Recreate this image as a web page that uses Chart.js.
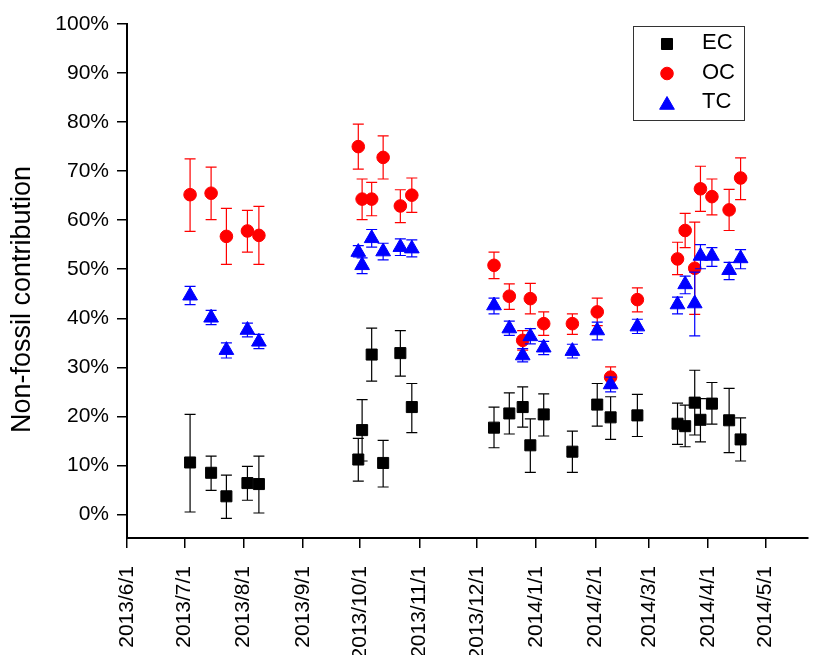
<!DOCTYPE html>
<html lang="en">
<head>
<meta charset="utf-8">
<title>Non-fossil contribution</title>
<script src="https://cdn.jsdelivr.net/npm/chart.js"></script>
<style>
  html, body { margin: 0; padding: 0; background: #fff; }
  #chart { display: block; }
</style>
</head>
<body>
<canvas id="chart" width="817" height="655"></canvas>
<script>
// sample dates shared by the three series
const sampleDates = [
  '2013/7/4', '2013/7/15', '2013/7/23', '2013/8/3', '2013/8/9',
  '2013/9/30', '2013/10/2', '2013/10/7', '2013/10/13', '2013/10/22', '2013/10/28',
  '2013/12/10', '2013/12/18', '2013/12/25', '2013/12/29', '2014/1/5', '2014/1/20', '2014/2/2', '2014/2/9', '2014/2/23',
  '2014/3/16', '2014/3/20', '2014/3/25', '2014/3/28', '2014/4/3', '2014/4/12', '2014/4/18'
];

// values in %, with lower / upper end of each error bar
const ecValues = [10.6, 8.5, 3.7, 6.4, 6.2, 11.2, 17.2, 32.6, 10.5, 32.9, 21.9,
  17.7, 20.6, 21.9, 14.1, 20.4, 12.8, 22.4, 19.8, 20.2, 18.5, 18.0, 22.8, 19.3, 22.6, 19.2, 15.3];
const ecLow = [0.5, 4.9, -0.8, 2.9, 0.3, 6.8, 10.9, 27.2, 5.6, 28.2, 16.7,
  13.6, 16.4, 17.8, 8.6, 16.0, 8.6, 18.0, 15.3, 15.9, 14.3, 13.8, 16.2, 14.8, 18.4, 12.6, 10.9];
const ecHigh = [20.4, 11.9, 8.0, 9.8, 11.9, 15.5, 23.4, 38.0, 15.1, 37.5, 26.7,
  21.9, 24.8, 26.0, 19.5, 24.6, 17.0, 26.7, 24.0, 24.5, 22.7, 22.3, 29.4, 23.6, 26.9, 25.7, 19.7];

const ocValues = [65.2, 65.5, 56.7, 57.8, 56.9, 75.0, 64.3, 64.3, 72.8, 62.9, 65.1,
  50.8, 44.5, 35.5, 44.0, 38.9, 38.9, 41.3, 28.0, 43.8, 52.1, 57.9, 50.2, 66.4, 64.8, 62.1, 68.6];
const ocLow = [57.7, 60.1, 51.0, 53.5, 51.0, 70.4, 60.1, 60.9, 68.4, 59.5, 61.6,
  48.1, 41.8, 33.5, 40.9, 36.5, 36.7, 38.5, 25.7, 41.3, 48.9, 54.4, 40.8, 61.8, 61.1, 57.9, 64.2];
const ocHigh = [72.5, 70.8, 62.4, 62.0, 62.8, 79.6, 68.4, 67.7, 77.2, 66.2, 68.6,
  53.5, 47.0, 37.5, 47.1, 41.3, 40.9, 44.1, 30.1, 46.2, 55.5, 61.4, 59.6, 71.0, 68.4, 66.3, 72.7];

const tcValues = [44.6, 40.1, 33.5, 37.6, 35.2, 53.5, 50.8, 56.3, 53.6, 54.5, 54.2,
  42.6, 37.9, 32.4, 36.3, 34.0, 33.3, 37.5, 26.5, 38.3, 42.8, 46.9, 43.0, 52.7, 52.7, 49.8, 52.2];
const tcLow = [42.8, 38.7, 31.9, 36.2, 33.8, 52.5, 49.1, 54.5, 51.9, 52.8, 52.5,
  40.9, 36.5, 31.1, 34.8, 32.6, 31.9, 35.6, 25.0, 36.9, 40.9, 45.0, 36.4, 50.1, 50.6, 47.9, 50.1];
const tcHigh = [46.5, 41.6, 35.0, 39.0, 36.7, 54.8, 52.3, 58.1, 55.3, 56.2, 56.0,
  44.1, 39.4, 33.8, 37.9, 35.3, 34.7, 39.2, 28.0, 39.8, 44.3, 48.6, 49.4, 55.0, 54.4, 51.4, 54.0];

const tickLabels = ['2013/6/1', '2013/7/1', '2013/8/1', '2013/9/1', '2013/10/1', '2013/11/1',
  '2013/12/1', '2014/1/1', '2014/2/1', '2014/3/1', '2014/4/1', '2014/5/1'];
const yTicks = [0, 10, 20, 30, 40, 50, 60, 70, 80, 90, 100];

const FONT = '"Liberation Sans", Arial, Helvetica, sans-serif';

// days since 2013/6/1
const origin = Date.UTC(2013, 5, 1);
function dayOf(s) {
  const [y, m, d] = s.split('/').map(Number);
  return (Date.UTC(y, m - 1, d) - origin) / 86400000;
}
function points(values) {
  return values.map((v, i) => ({ x: dayOf(sampleDates[i]), y: v }));
}

// error bars, drawn just before each dataset's markers
const errorBars = {
  id: 'errorBars',
  beforeDatasetDraw(chart, args) {
    const ds = chart.data.datasets[args.index];
    if (!ds.errLow) return;
    const xs = chart.scales.x, ys = chart.scales.y, ctx = chart.ctx;
    const cap = 5.5;
    ctx.save();
    ctx.strokeStyle = ds.borderColor;
    ctx.lineWidth = 1.2;
    ds.data.forEach((p, i) => {
      const px = xs.getPixelForValue(p.x);
      const lo = ys.getPixelForValue(ds.errLow[i]);
      const hi = ys.getPixelForValue(ds.errHigh[i]);
      ctx.beginPath();
      ctx.moveTo(px, lo); ctx.lineTo(px, hi);
      ctx.moveTo(px - cap, lo); ctx.lineTo(px + cap, lo);
      ctx.moveTo(px - cap, hi); ctx.lineTo(px + cap, hi);
      ctx.stroke();
    });
    ctx.restore();
  }
};

// framed legend in the upper right corner
const boxLegend = {
  id: 'boxLegend',
  afterDraw(chart) {
    const ctx = chart.ctx;
    const left = 633, top = 26, w = 111, h = 94;
    ctx.save();
    ctx.strokeStyle = '#333';
    ctx.lineWidth = 1;
    ctx.strokeRect(left + 0.5, top + 0.5, w, h);
    ctx.font = '22px ' + FONT;
    ctx.textBaseline = 'middle';
    chart.data.datasets.forEach((ds, i) => {
      const y = top + 18 + i * 29.5;
      ctx.fillStyle = ds.backgroundColor;
      ctx.strokeStyle = ds.borderColor;
      ctx.lineWidth = ds.borderWidth;
      const dy = ds.pointStyle === 'triangle' ? 2 : 0;
      Chart.helpers.drawPoint(ctx, { pointStyle: ds.pointStyle, radius: ds.pointRadius, borderWidth: ds.borderWidth, rotation: 0 }, left + 34, y + dy);
      ctx.fillStyle = '#000';
      ctx.fillText(ds.label, left + 69, y - 1);
    });
    ctx.restore();
  }
};

// rotated y axis title
const yTitle = {
  id: 'yTitle',
  afterDraw(chart) {
    const ctx = chart.ctx, a = chart.chartArea;
    ctx.save();
    ctx.translate(23, a.top + (a.bottom - a.top) * 0.536);
    ctx.rotate(-Math.PI / 2);
    ctx.font = '27px ' + FONT;
    ctx.fillStyle = '#000';
    ctx.textAlign = 'center';
    ctx.textBaseline = 'middle';
    ctx.fillText('Non-fossil contribution', 0, 0);
    ctx.restore();
  }
};

const axisGrid = { display: true, drawOnChartArea: false, drawTicks: true, tickLength: 10, color: '#000', lineWidth: 1.5 };
const axisBorder = { display: true, color: '#000', width: 2 };

new Chart(document.getElementById('chart'), {
  type: 'scatter',
  data: {
    datasets: [{
      label: 'EC',
      data: points(ecValues),
      errLow: ecLow, errHigh: ecHigh,
      pointStyle: 'rect', pointRadius: 7.8, borderWidth: 1,
      backgroundColor: '#000', borderColor: '#000',
      order: 3
    }, {
      label: 'OC',
      data: points(ocValues),
      errLow: ocLow, errHigh: ocHigh,
      pointStyle: 'circle', pointRadius: 6.3, borderWidth: 1,
      backgroundColor: '#ff0000', borderColor: '#ff0000',
      order: 2
    }, {
      label: 'TC',
      data: points(tcValues),
      errLow: tcLow, errHigh: tcHigh,
      pointStyle: 'triangle', pointRadius: 8.5, borderWidth: 1,
      backgroundColor: '#0000ff', borderColor: '#0000ff',
      order: 1
    }]
  },
  options: {
    responsive: false,
    animation: false,
    layout: { padding: { top: 24, right: 0, bottom: 0, left: 0 } },
    plugins: { legend: { display: false }, tooltip: { enabled: false } },
    scales: {
      x: {
        type: 'linear',
        min: 0,
        max: dayOf('2014/5/23'),
        afterBuildTicks: s => { s.ticks = tickLabels.map(t => ({ value: dayOf(t) })); },
        afterFit: s => { s.height = 117; },
        ticks: {
          callback: (v, i) => tickLabels[i],
          minRotation: 90, maxRotation: 90, autoSkip: false,
          padding: 18, color: '#000',
          font: { family: FONT, size: 21 }
        },
        grid: axisGrid,
        border: axisBorder
      },
      y: {
        min: -4.8,
        max: 100,
        afterBuildTicks: s => { s.ticks = yTicks.map(v => ({ value: v })); },
        afterFit: s => { s.width = 127; },
        ticks: {
          callback: v => v + '%',
          padding: 8, color: '#000',
          font: { family: FONT, size: 21 }
        },
        grid: axisGrid,
        border: axisBorder
      }
    }
  },
  plugins: [errorBars, boxLegend, yTitle]
});
</script>
</body>
</html>
